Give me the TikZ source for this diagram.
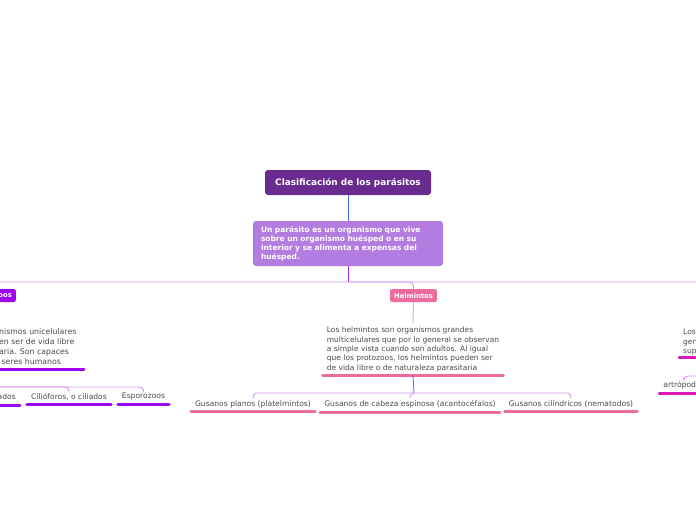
\documentclass[tikz,border=0pt]{standalone}
\usepackage{fontspec}
\setmainfont{DejaVu Sans}
\definecolor{titlec}{HTML}{6A2B8E}
\definecolor{descc}{HTML}{B27CE0}
\definecolor{bluec}{HTML}{3A6CF2}
\definecolor{purpc}{HTML}{A52CF0}
\definecolor{lightc}{HTML}{D596F2}
\definecolor{violc}{HTML}{9E06F0}
\definecolor{pinkc}{HTML}{EE6B9D}
\definecolor{magc}{HTML}{DD18B8}
\definecolor{txtc}{HTML}{4A4A4A}
\tikzset{
  titlebox/.style={fill=titlec, rounded corners=3pt, text=white, inner sep=0pt,
    font=\bfseries\fontsize{8.9}{10}\selectfont, minimum width=166pt, minimum height=25pt},
  descbox/.style={fill=descc, rounded corners=3pt, text=white, inner xsep=8pt, inner ysep=0pt,
    font=\bfseries\fontsize{7.5}{9}\selectfont, text width=174pt, align=left, minimum height=45pt},
  tagbox/.style={rounded corners=2pt, text=white, inner xsep=4pt, inner ysep=0pt,
    font=\bfseries\fontsize{6.8}{8}\selectfont, minimum height=13pt},
  body/.style={text=txtc, inner xsep=5pt, inner ysep=3pt, align=left,
    font=\fontsize{7.5}{9.4}\selectfont},
  leaf/.style={text=txtc, inner xsep=5pt, inner ysep=4pt,
    font=\fontsize{7.6}{8}\selectfont},
  uline/.style={line width=3pt, line cap=round},
  conn/.style={line width=0.9pt},
  branch/.style={conn, draw=lightc, rounded corners=4pt},
}
\begin{document}
\begin{tikzpicture}[x=1pt,y=-1pt]
\useasboundingbox (0,0) rectangle (696,520);
\clip (0,0) rectangle (696,520);

% main nodes
\node[titlebox] (t) at (348,182.5) {Clasificación de los parásitos};
\node[descbox] (d) at (348,243.5) {Un parásito es un organismo que vive\\sobre un organismo huésped o en su\\interior y se alimenta a expensas del\\huésped.};
\draw[conn, bluec] (t.south) -- (d.north);
\coordinate (hub) at (348,282);
\draw[conn, purpc] (d.south) -- (hub);

% level 1 tags
\node[tagbox, fill=violc, anchor=east] (p) at (16,295.5) {Protozoos};
\node[tagbox, fill=pinkc] (h) at (413.5,295.5) {Helmintos};
\coordinate (rend) at (740,300);
\draw[branch] (hub) -| (p.north);
\draw[branch] (hub) -| (h.north);
\draw[branch] (hub) -| (rend);

% Helmintos
\node[body] (hd) at (413,349.5) {Los helmintos son organismos grandes\\multicelulares que por lo general se observan\\a simple vista cuando son adultos. Al igual\\que los protozoos, los helmintos pueden ser\\de vida libre o de naturaleza parasitaria};
\draw[conn, draw=lightc!80] (h.south) -- (hd.north);
\draw[uline, pinkc] ([xshift=1pt]hd.south west) -- ([xshift=-1pt]hd.south east);
\coordinate (hub2) at (414,393);
\draw[conn, purpc!85] (hd.south) -- (hub2);

\node[leaf] (g1) at (253,404) {Gusanos planos (platelmintos)};
\node[leaf] (g2) at (410,404) {Gusanos de cabeza espinosa (acantocéfalos)};
\node[leaf] (g3) at (571,404) {Gusanos cilíndricos (nematodos)};
\foreach \g in {g1,g2,g3}{
  \draw[branch] (hub2) -| (\g.north);
  \draw[uline, pinkc] ([xshift=1pt]\g.south west) -- ([xshift=-1pt]\g.south east);
}

% Protozoos
\node[body, anchor=north west, inner xsep=0pt, font=\fontsize{7.8}{10}\selectfont] (pd) at (-1,325) {nismos unicelulares\\en ser de vida libre\\aria. Son capaces\\\ seres humanos};
\draw[uline, violc] (-5,369) -- (84,369);
\coordinate (phub) at (-40,387);
\node[leaf, anchor=east] (c0) at (21,397) {Mastigóforos, o flagelados};
\node[leaf] (c1) at (69,397) {Cilióforos, o ciliados};
\node[leaf] (c2) at (143.5,397) {Esporozoos};
\foreach \c in {c0,c1,c2}{
  \draw[branch] (phub) -| (\c.north);
  \draw[uline, violc] ([xshift=1pt]\c.south west) -- ([xshift=-1pt]\c.south east);
}

% right side
\node[body, anchor=north west, inner xsep=0pt] (rd) at (683,326) {Los\\gen\\sup};
\draw[uline, magc] (679,357) -- (710,357);
\coordinate (rhub) at (740,376);
\node[leaf] (a1) at (684,385) {artrópodos};
\draw[branch] (rhub) -| (a1.north);
\draw[uline, magc] ([xshift=1pt]a1.south west) -- ([xshift=-1pt]a1.south east);
\end{tikzpicture}
\end{document}
